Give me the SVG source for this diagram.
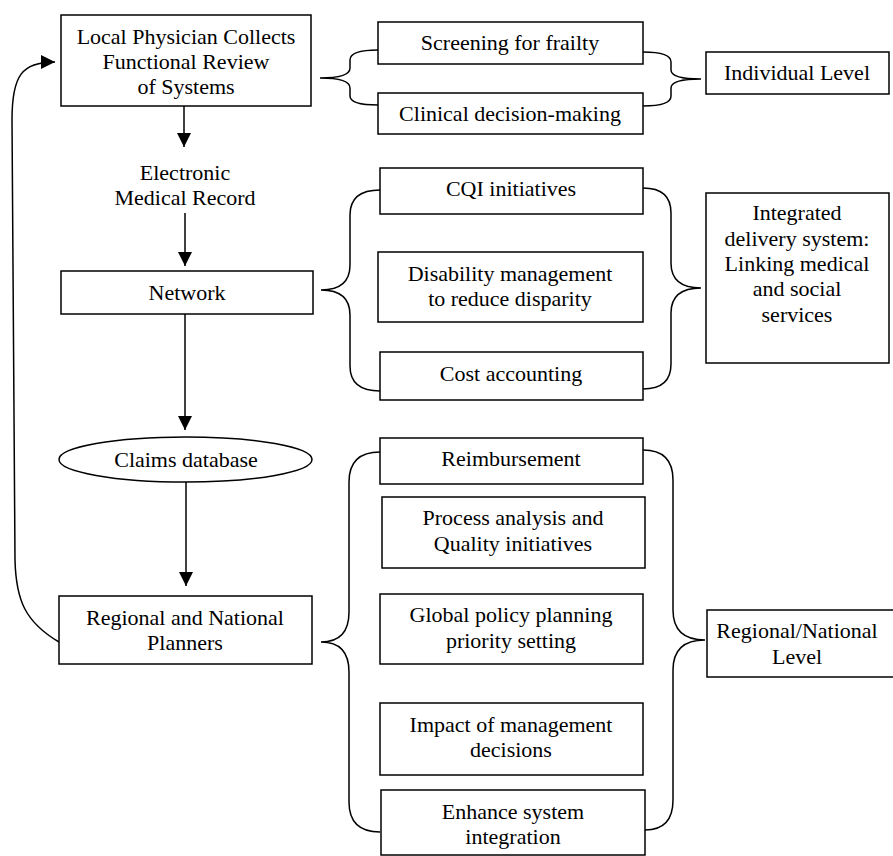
<svg xmlns="http://www.w3.org/2000/svg" width="893" height="856" viewBox="0 0 893 856">
<style>
.b{fill:#fff;stroke:#000;stroke-width:1.5}
.t{font-family:"Liberation Serif","Times New Roman",serif;font-size:22px;fill:#000;text-anchor:middle}
.c{fill:none;stroke:#000;stroke-width:1.5}
</style>
<defs>
<marker id="ah" markerWidth="14" markerHeight="14" refX="14" refY="7" orient="auto" markerUnits="userSpaceOnUse">
<path d="M0,0 L14,7 L0,14 Z" fill="#000"/>
</marker>
</defs>
<rect width="893" height="856" fill="#fff"/>
<g id="connectors">
<path class="c" d="M184,106 L184,147" marker-end="url(#ah)"/>
<path class="c" d="M185,213 L185,266" marker-end="url(#ah)"/>
<path class="c" d="M185,314 L185,430" marker-end="url(#ah)"/>
<path class="c" d="M186,482 L186,586" marker-end="url(#ah)"/>
<path class="c" d="M59,642 C25,622 16,600 15,560 L12,120 C12,75 22,62 55,62" marker-end="url(#ah)"/>
<path class="c" d="M378,50 Q350,50 350,60 L350,68 Q350,78 320,78 Q350,78 350,88 L350,96 Q350,105 378,105"/>
<path class="c" d="M643,52 Q671,52 671,62 L671,70 Q671,79 701,79 Q671,79 671,88 L671,96 Q671,106 643,106"/>
<path class="c" d="M380,190 Q350,190 350,215 L350,265 Q350,290 321,290 Q350,290 350,315 L350,366 Q350,391 380,391"/>
<path class="c" d="M643,188 Q671,188 671,213 L671,263 Q671,288 701,288 Q671,288 671,313 L671,364 Q671,389 643,389"/>
<path class="c" d="M380,452 Q349,452 349,482 L349,612 Q349,642 321,642 Q349,642 349,672 L349,802 Q349,832 380,832"/>
<path class="c" d="M643,450 Q673,450 673,480 L673,610 Q673,640 705,640 Q673,640 673,670 L673,800 Q673,830 645,830"/>
</g>
<g id="local-physician">
<rect class="b" x="61" y="15" width="250" height="91"/>
<text class="t" x="186" y="44">Local Physician Collects</text>
<text class="t" x="186" y="69">Functional Review</text>
<text class="t" x="186" y="94">of Systems</text>
</g>
<g id="emr">
<text class="t" x="185" y="180">Electronic</text>
<text class="t" x="185" y="205">Medical Record</text>
</g>
<g id="network">
<rect class="b" x="61" y="271" width="252" height="43"/>
<text class="t" x="187" y="300">Network</text>
</g>
<g id="claims">
<ellipse class="b" cx="185.5" cy="459.5" rx="126.5" ry="22.5"/>
<text class="t" x="186" y="467">Claims database</text>
</g>
<g id="planners">
<rect class="b" x="59" y="596" width="253" height="68"/>
<text class="t" x="185" y="625">Regional and National</text>
<text class="t" x="185" y="650">Planners</text>
</g>
<g id="screening">
<rect class="b" x="378" y="22" width="265" height="42"/>
<text class="t" x="510" y="50">Screening for frailty</text>
</g>
<g id="clinical">
<rect class="b" x="378" y="93" width="265" height="41"/>
<text class="t" x="510" y="121">Clinical decision-making</text>
</g>
<g id="individual">
<rect class="b" x="706" y="52" width="183" height="42"/>
<text class="t" x="797" y="80">Individual Level</text>
</g>
<g id="cqi">
<rect class="b" x="380" y="168" width="263" height="46"/>
<text class="t" x="511" y="196">CQI initiatives</text>
</g>
<g id="disability">
<rect class="b" x="378" y="252" width="265" height="70"/>
<text class="t" x="510" y="281">Disability management</text>
<text class="t" x="510" y="306">to reduce disparity</text>
</g>
<g id="cost">
<rect class="b" x="380" y="352" width="263" height="48"/>
<text class="t" x="511" y="381">Cost accounting</text>
</g>
<g id="integrated">
<rect class="b" x="706" y="193" width="183" height="170"/>
<text class="t" x="797" y="220">Integrated</text>
<text class="t" x="797" y="246">delivery system:</text>
<text class="t" x="797" y="271">Linking medical</text>
<text class="t" x="797" y="296">and social</text>
<text class="t" x="797" y="322">services</text>
</g>
<g id="reimbursement">
<rect class="b" x="380" y="438" width="263" height="46"/>
<text class="t" x="511" y="466">Reimbursement</text>
</g>
<g id="process">
<rect class="b" x="382" y="497" width="263" height="71"/>
<text class="t" x="513" y="525">Process analysis and</text>
<text class="t" x="513" y="551">Quality initiatives</text>
</g>
<g id="global">
<rect class="b" x="380" y="594" width="263" height="70"/>
<text class="t" x="511" y="622">Global policy planning</text>
<text class="t" x="511" y="648">priority setting</text>
</g>
<g id="impact">
<rect class="b" x="380" y="703" width="263" height="72"/>
<text class="t" x="511" y="732">Impact of management</text>
<text class="t" x="511" y="757">decisions</text>
</g>
<g id="enhance">
<rect class="b" x="381" y="790" width="264" height="65"/>
<text class="t" x="513" y="819">Enhance system</text>
<text class="t" x="513" y="844">integration</text>
</g>
<g id="regional-level">
<rect class="b" x="707" y="610" width="190" height="67"/>
<text class="t" x="797" y="638">Regional/National</text>
<text class="t" x="797" y="664">Level</text>
</g>
</svg>
